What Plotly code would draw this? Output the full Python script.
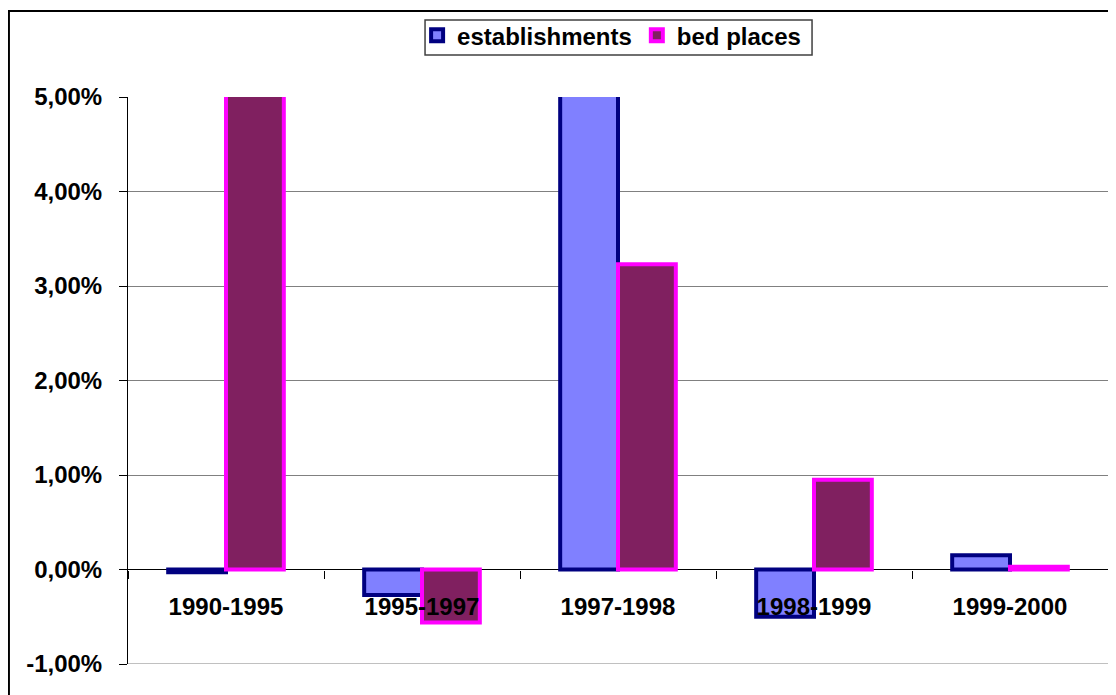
#------------------------------------------------------------------------------------------------------------------
#   Growth of establishments and bed places
#------------------------------------------------------------------------------------------------------------------
import plotly.graph_objects as go

#------------------------------------------------------------------------------------------------------------------
#   Data (% change, values above 5 are cut off by the axis range)
#------------------------------------------------------------------------------------------------------------------
periods = ["1990-1995", "1995-1997", "1997-1998", "1998-1999", "1999-2000"]
establishments = [-0.03, -0.27, 5.8, -0.50, 0.15]
bed_places = [6.2, -0.56, 3.23, 0.95, 0.03]

y_ticks = [-1, 0, 1, 2, 3, 4, 5]
y_tick_labels = ["-1,00%", "0,00%", "1,00%", "2,00%", "3,00%", "4,00%", "5,00%"]

#------------------------------------------------------------------------------------------------------------------
#   Figure  (page body has an 8px margin, so margins are set relative to that)
#------------------------------------------------------------------------------------------------------------------
font_bold = dict(family="Liberation Sans, Arial, sans-serif", size=24, color="black", weight="bold")

fig = go.Figure()
fig.add_trace(go.Bar(x=periods, y=establishments, name="establishments",
                     marker=dict(color="#8080FF", line=dict(color="#000080", width=4))))
fig.add_trace(go.Bar(x=periods, y=bed_places, name="bed places",
                     marker=dict(color="#802060", line=dict(color="#FF00FF", width=4))))

ymin, ymax = y_ticks[0], y_ticks[-1]

fig.update_layout(
    width=1116, height=695,
    margin=dict(l=120, r=16, t=89, b=39, autoexpand=False),
    paper_bgcolor="white", plot_bgcolor="white",
    font=font_bold,
    barmode="group", bargap=0.41, bargroupgap=0,
    showlegend=True,
    legend=dict(orientation="h", x=0.295, y=1.148, xanchor="left", yanchor="top",
                borderwidth=0, bgcolor="rgba(0,0,0,0)",
                font=font_bold, tracegroupgap=0),
    xaxis=dict(type="category", anchor="free", position=(0 - ymin) / (ymax - ymin),
               showgrid=False, showline=False, ticks="outside", tickson="boundaries",
               ticklen=8, tickcolor="black", tickwidth=1, ticklabelstandoff=20,
               tickfont=font_bold, automargin=False),
    yaxis=dict(range=[ymin, ymax], tickvals=y_ticks, ticktext=y_tick_labels,
               showgrid=True, gridcolor="#808080", gridwidth=1,
               zeroline=True, zerolinecolor="black", zerolinewidth=1,
               showline=True, linecolor="black", linewidth=1,
               ticks="outside", ticklen=8, tickcolor="black", ticklabelstandoff=12,
               tickfont=font_bold, automargin=False),
    shapes=[
        # gridline at the bottom edge of the plot
        dict(type="line", xref="paper", yref="y", x0=0, x1=1, y0=ymin, y1=ymin,
             line=dict(color="#808080", width=1), layer="below"),
        # outer chart frame
        dict(type="rect", xref="paper", yref="paper",
             x0=-0.1215, x1=1.03, y0=-0.1, y1=1.1517,
             line=dict(color="black", width=2), fillcolor="rgba(0,0,0,0)", layer="below"),
        # legend frame
        dict(type="rect", xref="paper", yref="paper",
             x0=0.3031, x1=0.698, y0=1.0741, y1=1.1358,
             line=dict(color="#404040", width=1.5), fillcolor="white", layer="below"),
    ],
)

fig.write_html("out.html")
